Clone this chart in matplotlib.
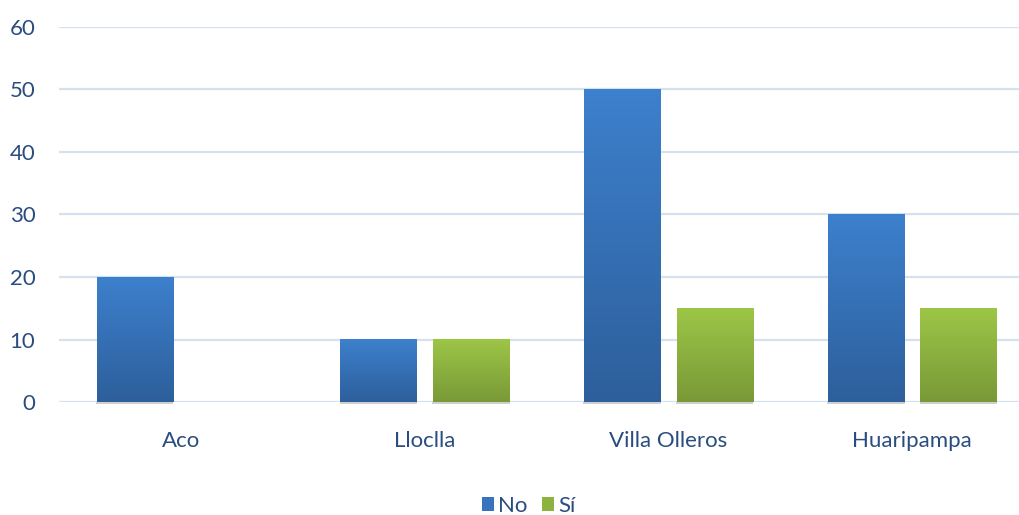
import matplotlib.pyplot as plt
import numpy as np
from matplotlib.colors import LinearSegmentedColormap
from matplotlib.patches import Patch

categories = ['Aco', 'Lloclla', 'Villa Olleros', 'Huaripampa']
no_vals = [20, 10, 50, 30]
si_vals = [0, 10, 15, 15]
series_names = ['No', 'Sí']

plt.rcParams['font.family'] = ['Lato', 'DejaVu Sans']
text_color = '#2a4d7f'
grid_color = '#d6e1f0'

blue_cmap = LinearSegmentedColormap.from_list('b', ['#2d5f9b', '#3d80cd'])
green_cmap = LinearSegmentedColormap.from_list('g', ['#799937', '#9dc647'])

fig = plt.figure(figsize=(10.19, 5.15), dpi=100)
ax = fig.add_axes([59 / 1019, 113 / 515, 975 / 1019, 375 / 515])

x = np.arange(len(categories))
w = 0.312
off = 0.19

bars_no = ax.bar(x - off, no_vals, w, color='none', zorder=3)
bars_si = ax.bar(x + off, si_vals, w, color='none', zorder=3)

grad = np.linspace(0, 1, 256).reshape(-1, 1)
for bars, cmap in [(bars_no, blue_cmap), (bars_si, green_cmap)]:
    for b in bars:
        h = b.get_height()
        if h <= 0:
            continue
        x0, bw = b.get_x(), b.get_width()
        # soft shadow under the bar
        ax.bar(x0 + bw / 2, 0.35, bw * 1.02, bottom=-0.35, color='#b0b0b0',
               alpha=0.6, zorder=2, clip_on=False)
        ax.imshow(grad, extent=(x0, x0 + bw, 0, h), origin='lower', cmap=cmap,
                  aspect='auto', zorder=3, interpolation='bicubic')

ax.set_xlim(-0.5, 3.5)
ax.set_ylim(0, 60)
ax.set_yticks(range(0, 61, 10))
ax.yaxis.grid(True, color=grid_color, linewidth=1.6, zorder=0)
ax.set_axisbelow(True)
ax.set_xticks(x)
ax.set_xticklabels(categories)
ax.tick_params(axis='both', length=0, labelsize=16, colors=text_color)
ax.tick_params(axis='x', pad=21)
ax.tick_params(axis='y', pad=17)
for s in ax.spines.values():
    s.set_visible(False)

handles = [Patch(facecolor='#3873bd', label=series_names[0]),
           Patch(facecolor='#8db33f', label=series_names[1])]
fig.legend(handles=handles, loc='center', bbox_to_anchor=(529 / 1019, 1 - 506 / 515),
           ncol=2, frameon=False, fontsize=16, labelcolor=text_color,
           handlelength=0.55, handleheight=0.55, handletextpad=0.18,
           columnspacing=0.65)

fig.savefig('out.png', dpi=100)
